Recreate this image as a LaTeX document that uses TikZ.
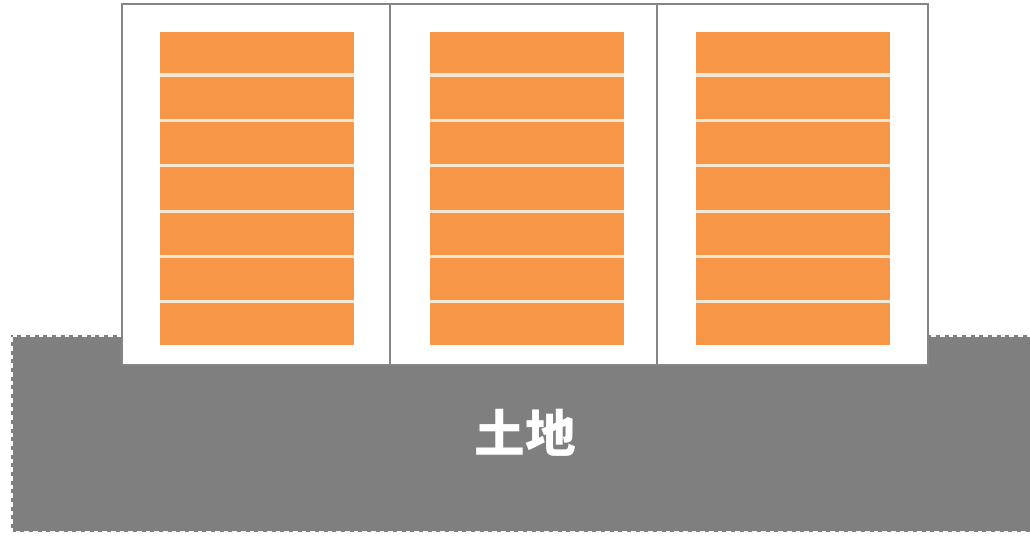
\documentclass[tikz,border=0pt]{standalone}
\usepackage{fontspec}
\newfontfamily\cjk{Noto Sans CJK SC}
\definecolor{ground}{HTML}{7F7F7F}
\definecolor{panel}{HTML}{F79646}
\definecolor{stripe}{HTML}{F2E8D5}
\definecolor{frame}{HTML}{858585}
\begin{document}
\begin{tikzpicture}[x=0.75pt,y=-0.75pt,
  groundbox/.style={fill=ground},
  groundedge/.style={draw=white!95!ground,line width=3pt*0.75,dash pattern=on 3.5pt off 3pt},
  building/.style={draw=frame,fill=white,line width=2.5pt*0.75},
  panelbox/.style={fill=panel},
  stripeline/.style={draw=stripe,line width=3pt*0.75},
  label/.style={text=white,font=\cjk\bfseries\fontsize{38pt}{44pt}\selectfont}]
\useasboundingbox (0,0) rectangle (1030,535);
% ground
\fill[groundbox] (11,335) rectangle (1040,532);
\draw[groundedge] (1040,335) -- (11,335) -- (11,532) -- (1040,532);
% buildings
\foreach \bx/\px in {122/160, 390/430, 657/696}{
  \pgfmathsetmacro{\bw}{\bx==122 ? 268 : (\bx==390 ? 267 : 271)}
  \draw[building] (\bx,4) rectangle ++(\bw,361);
  \fill[panelbox] (\px,32) rectangle ++(194,313);
  \foreach \sy in {75,120,165,211,256,301}{
    \draw[stripeline] (\px,\sy) -- ++(194,0);
  }
}
\node[label] (land) at (525,433) {土地};
\end{tikzpicture}
\end{document}
